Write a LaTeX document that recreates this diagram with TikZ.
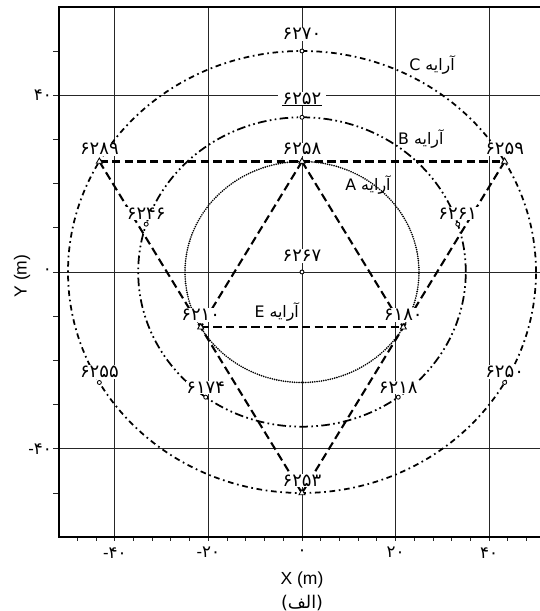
\documentclass[tikz,border=0pt]{standalone}
\usepackage{fontspec}
\setmainfont{Liberation Sans}
\newfontfamily\arabicfont[Script=Arabic]{DejaVu Sans}
\TeXXeTstate=1
\usetikzlibrary{shapes.geometric,positioning}
\pgfdeclarelayer{gridlayer}
\pgfdeclarelayer{linelayer}
\pgfsetlayers{gridlayer,linelayer,main}
\newcommand{\mnus}{{\normalfont\fontsize{10}{11}\selectfont -}}
\begin{document}
\begin{tikzpicture}[x=2.808pt, y=2.652pt,
  gridln/.style={line width=0.55pt, black!85},
  frm/.style={line width=1.1pt},
  circC/.style={line width=1.05pt, dash pattern=on 3.4pt off 2.2pt on 1pt off 2.2pt},
  circB/.style={line width=1.05pt, dash pattern=on 5.2pt off 2pt on 1pt off 2pt on 1pt off 2pt},
  circA/.style={line width=1.1pt, line cap=round, dash pattern=on 0pt off 1.35pt},
  tri/.style={line width=1.25pt, dash pattern=on 5pt off 2.6pt},
  mkc/.style={circle, draw, fill=white, inner sep=0pt, minimum size=2.4pt, line width=0.5pt},
  mkt/.style={regular polygon, regular polygon sides=3, draw, fill=white, inner sep=0pt, minimum size=4.2pt, line width=0.5pt},
  num/.style={font=\arabicfont\fontsize{10.8}{12}\selectfont, fill=white, inner sep=0.5pt},
  arr/.style={font=\arabicfont\fontsize{9.5}{11}\selectfont, inner sep=0pt},
  tk/.style={font=\arabicfont\fontsize{10}{11}\selectfont, inner sep=0pt},
  axl/.style={font=\fontsize{10.5}{12}\selectfont, inner sep=0pt}]
\useasboundingbox (-64.53,-76.7) rectangle (50.85,61.54);
\clip (-64.53,-76.7) rectangle (50.85,61.54);

% grid, ticks and frame
\begin{pgfonlayer}{gridlayer}
\foreach \x in {-40,-20,0,20,40} \draw[gridln] (\x,-60) -- (\x,60);
\foreach \y in {-40,0,40} \draw[gridln] (-52,\y) -- (52,\y);
\foreach \y in {-50,-40,...,50} \draw[gridln] (-52,\y) -- (-53.1,\y);
\foreach \x in {-48,-44,...,48} \draw[gridln] (\x,-60) -- (\x,-60.9);
\draw[frm] (52,60) -- (-52,60) -- (-52,-60) -- (52,-60);
\end{pgfonlayer}

% markers
\node[mkc] (m6270) at (0,50) {};
\node[mkc] (m6252) at (0,35) {};
\node[mkt] (m6258) at (0,25) {};
\node[mkc] (m6267) at (0,0) {};
\node[mkt] (m6289) at (-43.3,25) {};
\node[mkt] (m6259) at (43.3,25) {};
\node[mkt] (m6253) at (0,-50) {};
\node[mkt] (m6210) at (-21.65,-12.5) {};
\node[mkt] (m6180) at (21.65,-12.5) {};
\node[mkc] (m6246) at (-33.29,10.82) {};
\node[mkc] (m6261) at (33.29,10.82) {};
\node[mkc] (m6174) at (-20.57,-28.32) {};
\node[mkc] (m6218) at (20.57,-28.32) {};
\node[mkc] (m6255) at (-43.3,-25) {};
\node[mkc] (m6250) at (43.3,-25) {};

% arrays (circles) and triangles
\begin{pgfonlayer}{linelayer}
\draw[circC] (m6267.center) circle [radius=50];
\draw[circB] (m6267.center) circle [radius=35];
\draw[circA] (m6267.center) circle [radius=25];
\draw[tri] (m6289.center) -- (m6259.center);
\draw[tri] (m6289.center) -- (m6253.center);
\draw[tri] (m6259.center) -- (m6253.center);
\draw[tri] (m6258.center) -- (m6210.center);
\draw[tri] (m6258.center) -- (m6180.center);
\draw[tri] (m6210.center) -- (m6180.center);
\end{pgfonlayer}

% station numbers
\node[num] (l6270) at (0,53.8) {۶۲۷۰};
\node[num, inner xsep=3pt] (l6252) at (0,39.2) {۶۲۵۲};
\draw[line width=0.7pt] ([xshift=3pt]l6252.south west) -- ([xshift=-3pt]l6252.south east);
\node[num, above=0.6pt of m6258] (l6258) {۶۲۵۸};
\node[num, above=0.6pt of m6289] (l6289) {۶۲۸۹};
\node[num, above=0.6pt of m6259] (l6259) {۶۲۵۹};
\node[num, above=0.6pt of m6246] (l6246) {۶۲۴۶};
\node[num, above=0.6pt of m6261] (l6261) {۶۲۶۱};
\node[num, above=4pt of m6267] (l6267) {۶۲۶۷};
\node[num, above=0.6pt of m6210] (l6210) {۶۲۱۰};
\node[num, above=0.6pt of m6180] (l6180) {۶۱۸۰};
\node[num, above=0.6pt of m6255] (l6255) {۶۲۵۵};
\node[num, above=0.6pt of m6250] (l6250) {۶۲۵۰};
\node[num, above=0.3pt of m6174] (l6174) {۶۱۷۴};
\node[num, above=0.3pt of m6218] (l6218) {۶۲۱۸};
\node[num, above=0.6pt of m6253] (l6253) {۶۲۵۳};

% array names
\node[arr] (aC) at (27.8,46.9) {\beginR آرایه C\endR};
\node[arr] (aB) at (25.4,30.1) {\beginR آرایه B\endR};
\node[arr] (aA) at (14.1,19.7) {\beginR آرایه A\endR};
\node[arr] (aE) at (-5.4,-9.1) {\beginR آرایه E\endR};

% axis tick labels
\node[tk] (tx1) at (-40,-63.5) {\mnus۴۰};
\node[tk] (tx2) at (-20,-63.5) {\mnus۲۰};
\node[tk] (tx3) at (0,-63.5) {۰};
\node[tk] (tx4) at (20,-63.5) {۲۰};
\node[tk] (tx5) at (40,-63.5) {۴۰};
\node[tk, anchor=east] (ty1) at (-53.4,40) {۴۰};
\node[tk, anchor=east] (ty2) at (-53.4,0) {۰};
\node[tk, anchor=east] (ty3) at (-53.4,-40) {\mnus۴۰};

% axis titles and caption
\node[axl] (xt) at (0,-69.7) {X (m)};
\node[axl, rotate=90] (yt) at (-59.8,-0.9) {Y (m)};
\node[font=\arabicfont\fontsize{10.5}{12}\selectfont, inner sep=0pt] (cap) at (0,-75.0) {(الف)};
\end{tikzpicture}
\end{document}
